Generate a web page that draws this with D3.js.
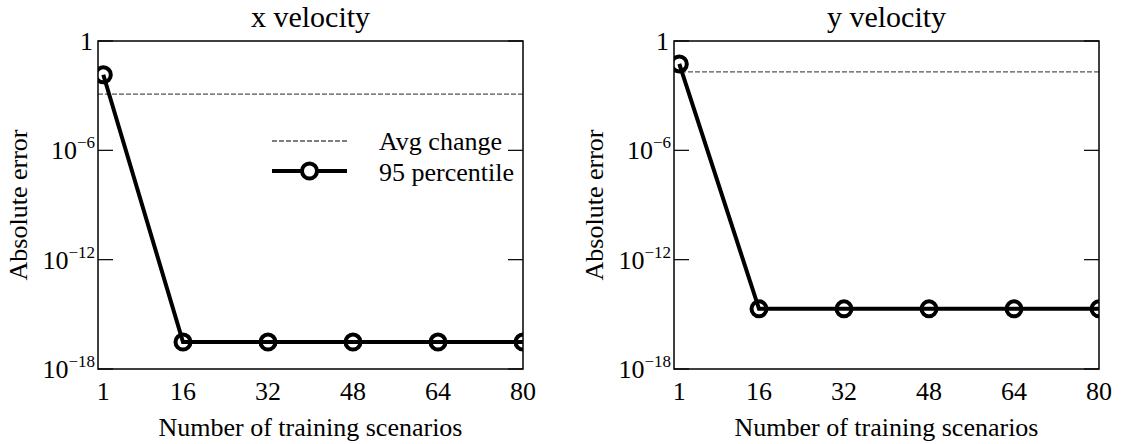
<!DOCTYPE html>
<html>
<head>
<meta charset="utf-8">
<script src="https://cdn.jsdelivr.net/npm/d3@7"></script>
<style>
  body { margin: 0; background: #fff; }
  svg { display: block; }
</style>
</head>
<body>
<svg id="chart" width="1125" height="444"></svg>
<script>
// training scenario counts (x axis)
const scenarios = [1, 16, 32, 48, 64, 80];
const xTicks = [1, 16, 32, 48, 64, 80];
const yTicks = [0, -6, -12, -18]; // exponents of 10

// 95 percentile error, per panel
const xVel95 = [1.4e-2, 3e-17, 3e-17, 3e-17, 3e-17, 3e-17];
const yVel95 = [5.5e-2, 2e-15, 2e-15, 2e-15, 2e-15, 2e-15];

// average change (dashed reference line)
const xVelAvg = 1.2e-3;
const yVelAvg = 2e-2;

const panels = [
    { title: "x velocity", left: 98, values: xVel95, avg: xVelAvg, legend: true },
    { title: "y velocity", left: 674, values: yVel95, avg: yVelAvg, legend: false }
];

const plotTop = 41, plotBottom = 369, plotW = 425;
const font = "Liberation Serif";
const fontSize = 26;
const svg = d3.select("#chart");

// helper: serif text
function label(sel, size) {
    return sel.append("text")
        .attr("font-family", font)
        .attr("font-size", size || fontSize)
        .attr("fill", "#000");
}

panels.forEach((p, i) => {
    const x = d3.scaleLinear().domain([0, 80]).range([p.left, p.left + plotW]);
    const y = d3.scaleLog().domain([1e-18, 1]).range([plotBottom, plotTop]);

    const g = svg.append("g");

    // clip so the last marker gets cut by the frame
    g.append("clipPath").attr("id", "clip" + i)
        .append("rect")
        .attr("x", p.left).attr("y", plotTop)
        .attr("width", plotW).attr("height", plotBottom - plotTop);

    // dashed avg line
    g.append("line")
        .attr("x1", p.left).attr("x2", p.left + plotW)
        .attr("y1", y(p.avg)).attr("y2", y(p.avg))
        .attr("stroke", "#555")
        .attr("stroke-width", 1.3)
        .attr("stroke-dasharray", "5,2");

    const series = g.append("g").attr("clip-path", `url(#clip${i})`);
    const line = d3.line().x((d, j) => x(scenarios[j])).y(d => y(d));

    series.append("path")
        .datum(p.values)
        .attr("d", line)
        .attr("fill", "none")
        .attr("stroke", "#000")
        .attr("stroke-width", 4);

    series.selectAll("circle")
        .data(p.values)
        .enter()
        .append("circle")
        .attr("cx", (d, j) => x(scenarios[j]))
        .attr("cy", d => y(d))
        .attr("r", 7.5)
        .attr("fill", "none")
        .attr("stroke", "#000")
        .attr("stroke-width", 4);

    // y ticks (inward, both sides)
    yTicks.forEach(e => {
        const ty = y(Math.pow(10, e));
        g.append("line")
            .attr("x1", p.left).attr("x2", p.left + 15)
            .attr("y1", ty).attr("y2", ty)
            .attr("stroke", "#000").attr("stroke-width", 1.2);
        g.append("line")
            .attr("x1", p.left + plotW - 15).attr("x2", p.left + plotW)
            .attr("y1", ty).attr("y2", ty)
            .attr("stroke", "#000").attr("stroke-width", 1.2);

        const t = label(g)
            .attr("x", p.left - 3)
            .attr("y", ty + 9)
            .attr("text-anchor", "end");
        if (e === 0) {
            t.attr("x", p.left - 5).text("1");
        } else {
            t.append("tspan").text("10");
            t.append("tspan")
                .attr("dy", -11)
                .attr("font-size", 17)
                .text("\u2212" + (-e));
        }
    });

    // frame
    g.append("rect")
        .attr("x", p.left).attr("y", plotTop)
        .attr("width", plotW).attr("height", plotBottom - plotTop)
        .attr("fill", "none")
        .attr("stroke", "#000")
        .attr("stroke-width", 1.5);

    // x tick labels
    xTicks.forEach(d => {
        label(g)
            .attr("x", x(d))
            .attr("y", 400)
            .attr("text-anchor", "middle")
            .text(d);
    });

    // axis labels and title
    label(g)
        .attr("x", p.left + plotW / 2)
        .attr("y", 436)
        .attr("text-anchor", "middle")
        .text("Number of training scenarios");

    label(g)
        .attr("transform", `translate(${p.left - 71}, ${(plotTop + plotBottom) / 2}) rotate(-90)`)
        .attr("text-anchor", "middle")
        .text("Absolute error");

    label(g, 30)
        .attr("x", p.left + plotW / 2)
        .attr("y", 27)
        .attr("text-anchor", "middle")
        .text(p.title);

    if (p.legend) {
        const lg = g.append("g");
        lg.append("line")
            .attr("x1", 272).attr("x2", 347)
            .attr("y1", 141).attr("y2", 141)
            .attr("stroke", "#555").attr("stroke-width", 1.3)
            .attr("stroke-dasharray", "5,2");
        lg.append("line")
            .attr("x1", 272).attr("x2", 347)
            .attr("y1", 171).attr("y2", 171)
            .attr("stroke", "#000").attr("stroke-width", 4);
        lg.append("circle")
            .attr("cx", 309.5).attr("cy", 171).attr("r", 7.5)
            .attr("fill", "#fff").attr("stroke", "#000").attr("stroke-width", 4);
        label(lg).attr("x", 379).attr("y", 150).text("Avg change");
        label(lg).attr("x", 379).attr("y", 181).text("95 percentile");
    }
});
</script>
</body>
</html>
